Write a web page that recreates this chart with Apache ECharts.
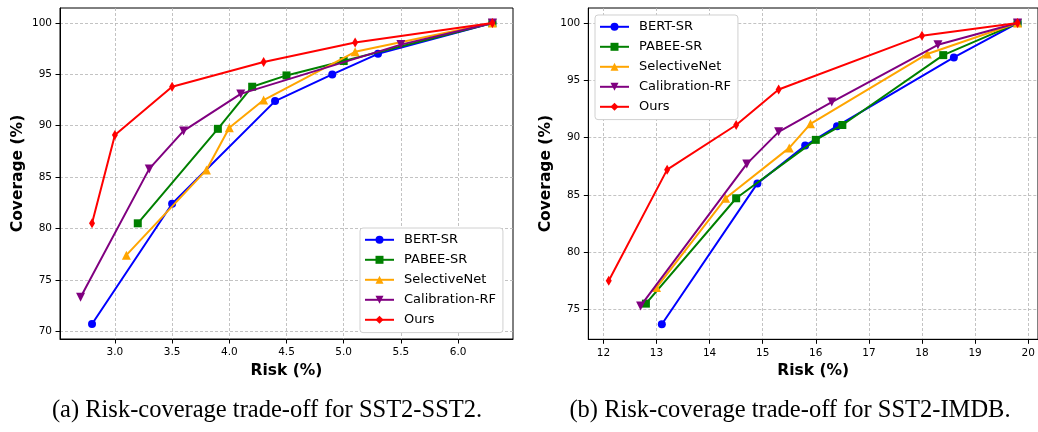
<!DOCTYPE html>
<html>
<head>
<meta charset="utf-8">
<title>Risk-coverage trade-off</title>
<script src="https://cdn.jsdelivr.net/npm/echarts@6/dist/echarts.min.js"></script>
<style>
    html, body { margin: 0; padding: 0; background: #ffffff; }
    #chart { width: 1038px; height: 432px; }
</style>
</head>
<body>
<div id="chart"></div>
<script>
// method names (legend order)
const methods = ['BERT-SR', 'PABEE-SR', 'SelectiveNet', 'Calibration-RF', 'Ours'];

// (a) SST2-SST2
const bertRiskA = [2.8, 3.5, 4.4, 4.9, 5.3, 6.3];
const bertCovA = [70.7, 82.4, 92.4, 95.0, 97.0, 100];
const pabeeRiskA = [3.2, 3.9, 4.2, 4.5, 5.0, 6.3];
const pabeeCovA = [80.5, 89.7, 93.8, 94.9, 96.3, 100];
const selRiskA = [3.1, 3.8, 4.0, 4.3, 5.1, 6.3];
const selCovA = [77.4, 85.7, 89.8, 92.5, 97.2, 100];
const calRiskA = [2.7, 3.3, 3.6, 4.1, 5.5, 6.3];
const calCovA = [73.3, 85.8, 89.5, 93.1, 97.9, 100];
const oursRiskA = [2.8, 3.0, 3.5, 4.3, 5.1, 6.3];
const oursCovA = [80.5, 89.1, 93.8, 96.2, 98.1, 100];

// (b) SST2-IMDB
const bertRiskB = [13.1, 14.9, 15.8, 16.4, 18.6, 19.8];
const bertCovB = [73.7, 86.0, 89.3, 91.0, 97.0, 100];
const pabeeRiskB = [12.8, 14.5, 16.0, 16.5, 18.4, 19.8];
const pabeeCovB = [75.5, 84.7, 89.8, 91.1, 97.2, 100];
const selRiskB = [13.0, 14.3, 15.5, 15.9, 18.1, 19.8];
const selCovB = [76.9, 84.7, 89.1, 91.2, 97.3, 100];
const calRiskB = [12.7, 14.7, 15.3, 16.3, 18.3, 19.8];
const calCovB = [75.3, 87.7, 90.5, 93.1, 98.1, 100];
const oursRiskB = [12.1, 13.2, 14.5, 15.3, 18.0, 19.8];
const oursCovB = [77.5, 87.2, 91.1, 94.2, 98.9, 100];

// tick labels
const riskTicksA = [3.0, 3.5, 4.0, 4.5, 5.0, 5.5, 6.0];
const covTicksA = [70, 75, 80, 85, 90, 95, 100];
const riskTicksB = [12, 13, 14, 15, 16, 17, 18, 19, 20];
const covTicksB = [75, 80, 85, 90, 95, 100];

const captionA = '(a) Risk-coverage trade-off for SST2-SST2.';
const captionB = '(b) Risk-coverage trade-off for SST2-IMDB.';

const colors = ['#0000ff', '#008000', '#ffa500', '#800080', '#ff0000'];
const symbols = ['circle', 'rect', 'triangle', 'triangle', 'diamond'];
const symbolSizes = [8, 8, 9, 9, [6, 10]];
const rotations = [0, 0, 0, 180, 0];

const font = 'DejaVu Sans';

function pairs(xs, ys) {
    return xs.map((x, i) => [x, ys[i]]);
}

function makeSeries(list, gridIdx) {
    return list.map((d, i) => ({
        name: methods[i],
        type: 'line',
        xAxisIndex: gridIdx,
        yAxisIndex: gridIdx,
        data: pairs(d[0], d[1]),
        symbol: symbols[i],
        symbolSize: symbolSizes[i],
        symbolRotate: rotations[i],
        showAllSymbol: true,
        lineStyle: { width: 2, color: colors[i] },
        itemStyle: { color: colors[i] },
        z: 3 + i,
    }));
}

function xAxis(gridIdx, min, max, ticks, digits) {
    return {
        type: 'value',
        gridIndex: gridIdx,
        min: min,
        max: max,
        name: 'Risk (%)',
        nameLocation: 'middle',
        nameGap: 24,
        nameTextStyle: { fontFamily: font, fontWeight: 'bold', fontSize: 15.5, color: '#000' },
        axisLine: { lineStyle: { color: '#000', width: 1 } },
        axisTick: { customValues: ticks, length: 4.5, lineStyle: { color: '#000' } },
        axisLabel: {
            customValues: ticks,
            margin: 8,
            fontFamily: font,
            fontSize: 10.5,
            color: '#000',
            formatter: v => v.toFixed(digits),
        },
        splitLine: { show: true, lineStyle: { color: '#b4b4b4', type: [3, 2], width: 0.8 } },
    };
}

function yAxis(gridIdx, min, max, ticks) {
    return {
        type: 'value',
        gridIndex: gridIdx,
        min: min,
        max: max,
        name: 'Coverage (%)',
        nameLocation: 'middle',
        nameGap: 34,
        nameTextStyle: { fontFamily: font, fontWeight: 'bold', fontSize: 15.5, color: '#000' },
        axisLine: { show: true, lineStyle: { color: '#000', width: 1 } },
        axisTick: { show: true, customValues: ticks, length: 4.5, lineStyle: { color: '#000' } },
        axisLabel: {
            customValues: ticks,
            margin: 8,
            fontFamily: font,
            fontSize: 10.5,
            color: '#000',
        },
        splitLine: { show: true, lineStyle: { color: '#b4b4b4', type: [3, 2], width: 0.8 } },
    };
}

function legend(left, top) {
    return {
        orient: 'vertical',
        left: left,
        top: top,
        data: methods,
        itemWidth: 29,
        itemHeight: 10,
        itemGap: 7,
        padding: [5.3, 7, 6.3, 4],
        borderColor: '#d0d0d0',
        borderWidth: 1,
        borderRadius: 3,
        backgroundColor: '#ffffff',
        textStyle: { fontFamily: font, fontSize: 13, color: '#000', padding: [0, 0, 0, 5] },
        selectedMode: false,
    };
}

const chart = echarts.init(document.getElementById('chart'));
chart.setOption({
    animation: false,
    backgroundColor: '#ffffff',
    // captions under each panel
    title: [
        {
            text: captionA,
            left: 262,
            top: 393,
            textAlign: 'center',
            textStyle: { fontFamily: 'Liberation Serif', fontWeight: 'normal', fontSize: 24.5, color: '#000' },
        },
        {
            text: captionB,
            left: 785,
            top: 393,
            textAlign: 'center',
            textStyle: { fontFamily: 'Liberation Serif', fontWeight: 'normal', fontSize: 24.5, color: '#000' },
        },
    ],
    grid: [
        { left: 60, top: 8, width: 453, height: 331, show: true, borderColor: '#000', borderWidth: 1 },
        { left: 588.3, top: 8, width: 453.2, height: 331.3, show: true, borderColor: '#000', borderWidth: 1 },
    ],
    xAxis: [
        xAxis(0, 2.52, 6.48, riskTicksA, 1),
        xAxis(1, 11.715, 20.185, riskTicksB, 0),
    ],
    yAxis: [
        yAxis(0, 69.235, 101.465, covTicksA),
        yAxis(1, 72.385, 101.315, covTicksB),
    ],
    legend: [
        legend(360, 228),
        legend(595, 15),
    ],
    series: makeSeries([
        [bertRiskA, bertCovA],
        [pabeeRiskA, pabeeCovA],
        [selRiskA, selCovA],
        [calRiskA, calCovA],
        [oursRiskA, oursCovA],
    ], 0).concat(makeSeries([
        [bertRiskB, bertCovB],
        [pabeeRiskB, pabeeCovB],
        [selRiskB, selCovB],
        [calRiskB, calCovB],
        [oursRiskB, oursCovB],
    ], 1)),
});
</script>
</body>
</html>
